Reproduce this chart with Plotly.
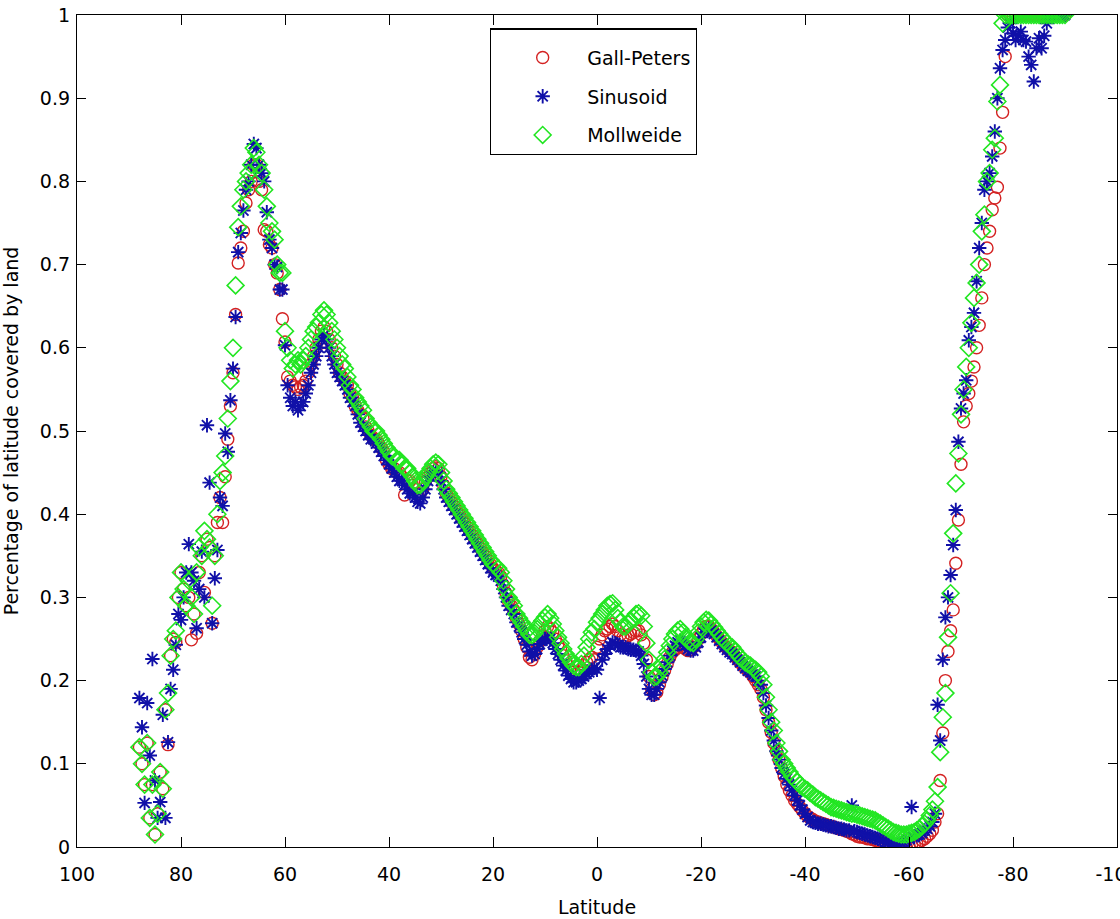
import plotly.graph_objects as go

# Latitude samples (degrees), from north to south
latitude = [
    88, 87.5, 87, 86.5, 86, 85.5, 85, 84.5, 84, 83.5,
    83, 82.5, 82, 81.5, 81, 80.5, 80, 79.5, 79, 78.5,
    78, 77.5, 77, 76.5, 76, 75.5, 75, 74.5, 74, 73.5,
    73, 72.5, 72, 71.5, 71, 70.5, 70, 69.5, 69, 68.5,
    68, 67.5, 67, 66.5, 66, 65.5, 65, 64.5, 64, 63.5,
    63, 62.5, 62, 61.5, 61, 60.5, 60, 59.5, 59, 58.5,
    58, 57.5, 57, 56.5, 56, 55.5, 55, 54.5, 54, 53.5,
    53, 52.5, 52, 51.5, 51, 50.5, 50, 49.5, 49, 48.5,
    48, 47.5, 47, 46.5, 46, 45.5, 45, 44.5, 44, 43.5,
    43, 42.5, 42, 41.5, 41, 40.5, 40, 39.5, 39, 38.5,
    38, 37.5, 37, 36.5, 36, 35.5, 35, 34.5, 34, 33.5,
    33, 32.5, 32, 31.5, 31, 30.5, 30, 29.5, 29, 28.5,
    28, 27.5, 27, 26.5, 26, 25.5, 25, 24.5, 24, 23.5,
    23, 22.5, 22, 21.5, 21, 20.5, 20, 19.5, 19, 18.5,
    18, 17.5, 17, 16.5, 16, 15.5, 15, 14.5, 14, 13.5,
    13, 12.5, 12, 11.5, 11, 10.5, 10, 9.5, 9, 8.5,
    8, 7.5, 7, 6.5, 6, 5.5, 5, 4.5, 4, 3.5,
    3, 2.5, 2, 1.5, 1, 0.5, 0, -0.5, -1, -1.5,
    -2, -2.5, -3, -3.5, -4, -4.5, -5, -5.5, -6, -6.5,
    -7, -7.5, -8, -8.5, -9, -9.5, -10, -10.5, -11, -11.5,
    -12, -12.5, -13, -13.5, -14, -14.5, -15, -15.5, -16, -16.5,
    -17, -17.5, -18, -18.5, -19, -19.5, -20, -20.5, -21, -21.5,
    -22, -22.5, -23, -23.5, -24, -24.5, -25, -25.5, -26, -26.5,
    -27, -27.5, -28, -28.5, -29, -29.5, -30, -30.5, -31, -31.5,
    -32, -32.5, -33, -33.5, -34, -34.5, -35, -35.5, -36, -36.5,
    -37, -37.5, -38, -38.5, -39, -39.5, -40, -40.5, -41, -41.5,
    -42, -42.5, -43, -43.5, -44, -44.5, -45, -45.5, -46, -46.5,
    -47, -47.5, -48, -48.5, -49, -49.5, -50, -50.5, -51, -51.5,
    -52, -52.5, -53, -53.5, -54, -54.5, -55, -55.5, -56, -56.5,
    -57, -57.5, -58, -58.5, -59, -59.5, -60, -60.5, -61, -61.5,
    -62, -62.5, -63, -63.5, -64, -64.5, -65, -65.5, -66, -66.5,
    -67, -67.5, -68, -68.5, -69, -69.5, -70, -70.5, -71, -71.5,
    -72, -72.5, -73, -73.5, -74, -74.5, -75, -75.5, -76, -76.5,
    -77, -77.5, -78, -78.5, -79, -79.5, -80, -80.5, -81, -81.5,
    -82, -82.5, -83, -83.5, -84, -84.5, -85, -85.5, -86, -86.5,
    -87, -87.5, -88, -88.5, -89, -89.5, -90,
]

gall_peters = [
    0.12, 0.10, 0.075, 0.125, 0.035, 0.075, 0.015, 0.04, 0.09, 0.07,
    0.165, 0.123, 0.23, 0.25, 0.246, 0.30, 0.33, 0.31, 0.29, 0.30,
    0.249, 0.28, 0.257, 0.33, 0.35, 0.306, 0.37, 0.36, 0.269, 0.35,
    0.39, 0.42, 0.39, 0.445, 0.49, 0.53, 0.57, 0.64, 0.702, 0.72,
    0.74, 0.774, 0.79, 0.80, 0.82, 0.82, 0.80, 0.79, 0.742, 0.74,
    0.724, 0.72, 0.70, 0.69, 0.67, 0.635, 0.607, 0.565, 0.56, 0.555,
    0.553, 0.55, 0.553, 0.555, 0.56, 0.57, 0.58, 0.59, 0.60, 0.61,
    0.62, 0.625, 0.62, 0.61, 0.60, 0.59, 0.58, 0.57, 0.565, 0.56,
    0.555, 0.545, 0.54, 0.53, 0.525, 0.52, 0.515, 0.505, 0.50, 0.495,
    0.49, 0.49, 0.485, 0.48, 0.475, 0.465, 0.46, 0.455, 0.455, 0.45,
    0.45, 0.445, 0.423, 0.44, 0.44, 0.435, 0.43, 0.425, 0.425, 0.43,
    0.44, 0.445, 0.45, 0.455, 0.457, 0.455, 0.445, 0.435, 0.425, 0.42,
    0.415, 0.41, 0.405, 0.40, 0.395, 0.39, 0.385, 0.38, 0.375, 0.37,
    0.365, 0.36, 0.355, 0.35, 0.345, 0.34, 0.335, 0.332, 0.33, 0.325,
    0.315, 0.305, 0.295, 0.29, 0.285, 0.275, 0.268, 0.26, 0.25, 0.24,
    0.228, 0.225, 0.232, 0.24, 0.248, 0.254, 0.26, 0.265, 0.262, 0.258,
    0.25, 0.244, 0.238, 0.23, 0.224, 0.218, 0.213, 0.21, 0.208, 0.21,
    0.212, 0.218, 0.222, 0.225, 0.228, 0.225, 0.24, 0.25, 0.255, 0.26,
    0.262, 0.265, 0.268, 0.265, 0.26, 0.255, 0.252, 0.252, 0.254, 0.256,
    0.258, 0.26, 0.26, 0.255, 0.245, 0.225, 0.205, 0.19, 0.183, 0.186,
    0.195, 0.204, 0.212, 0.22, 0.228, 0.234, 0.237, 0.24, 0.242, 0.24,
    0.238, 0.236, 0.237, 0.24, 0.244, 0.25, 0.256, 0.262, 0.265, 0.265,
    0.262, 0.258, 0.254, 0.25, 0.246, 0.242, 0.239, 0.236, 0.234, 0.23,
    0.226, 0.222, 0.218, 0.215, 0.212, 0.21, 0.205, 0.20, 0.195, 0.19,
    0.18, 0.165, 0.15, 0.138, 0.125, 0.115, 0.105, 0.095, 0.085, 0.075,
    0.068, 0.062, 0.056, 0.052, 0.048, 0.044, 0.04, 0.037, 0.035, 0.033,
    0.031, 0.03, 0.029, 0.028, 0.027, 0.026, 0.025, 0.024, 0.023, 0.022,
    0.021, 0.02, 0.019, 0.018, 0.016, 0.015, 0.013, 0.012, 0.012, 0.011,
    0.01, 0.01, 0.009, 0.008, 0.007, 0.006, 0.005, 0.004, 0.003, 0.002,
    0.001, 0.001, 0.0, 0.0, 0.0, 0.0, 0.001, 0.002, 0.003, 0.004,
    0.006, 0.008, 0.01, 0.013, 0.016, 0.02, 0.03, 0.04, 0.08, 0.137,
    0.20, 0.235, 0.26, 0.285, 0.341, 0.393, 0.46, 0.511, 0.53, 0.545,
    0.56, 0.577, 0.60, 0.627, 0.66, 0.70, 0.72, 0.74, 0.766, 0.78,
    0.793, 0.84, 0.883, 0.95, 1, 1, 1, 1, 1, 1,
    1, 1, 1, 1, 1, 1, 1, 1, 1, 1,
    1, 1, 1, 1, 1, 1, 1,
]

sinusoid = [
    0.179, 0.144, 0.053, 0.173, 0.11, 0.226, 0.08, 0.035, 0.054, 0.159,
    0.035, 0.126, 0.19, 0.213, 0.243, 0.28, 0.273, 0.30, 0.33, 0.364,
    0.33, 0.32, 0.263, 0.31, 0.355, 0.30, 0.507, 0.438, 0.269, 0.323,
    0.357, 0.42, 0.41, 0.497, 0.475, 0.537, 0.575, 0.637, 0.715, 0.738,
    0.765, 0.79, 0.80, 0.82, 0.845, 0.84, 0.82, 0.81, 0.80, 0.763,
    0.73, 0.72, 0.70, 0.697, 0.67, 0.67, 0.603, 0.555, 0.54, 0.53,
    0.535, 0.525, 0.53, 0.535, 0.545, 0.555, 0.57, 0.58, 0.59, 0.60,
    0.61, 0.615, 0.61, 0.60, 0.59, 0.58, 0.57, 0.565, 0.56, 0.555,
    0.55, 0.54, 0.535, 0.53, 0.52, 0.51, 0.505, 0.50, 0.495, 0.49,
    0.49, 0.485, 0.48, 0.475, 0.47, 0.465, 0.46, 0.455, 0.45, 0.445,
    0.44, 0.44, 0.435, 0.43, 0.425, 0.425, 0.42, 0.415, 0.413, 0.42,
    0.43, 0.44, 0.445, 0.45, 0.452, 0.45, 0.44, 0.43, 0.42, 0.415,
    0.41, 0.405, 0.40, 0.395, 0.39, 0.385, 0.38, 0.375, 0.37, 0.365,
    0.36, 0.355, 0.35, 0.345, 0.34, 0.335, 0.33, 0.327, 0.325, 0.32,
    0.31, 0.30, 0.29, 0.285, 0.28, 0.27, 0.265, 0.258, 0.25, 0.243,
    0.235, 0.23, 0.232, 0.238, 0.244, 0.248, 0.25, 0.252, 0.25, 0.245,
    0.238, 0.232, 0.225, 0.218, 0.212, 0.206, 0.202, 0.198, 0.198, 0.20,
    0.202, 0.205, 0.208, 0.21, 0.213, 0.215, 0.213, 0.179, 0.225, 0.232,
    0.238, 0.242, 0.246, 0.245, 0.243, 0.24, 0.24, 0.24, 0.238, 0.237,
    0.237, 0.236, 0.235, 0.23, 0.22, 0.205, 0.19, 0.183, 0.183, 0.19,
    0.198, 0.206, 0.214, 0.222, 0.23, 0.236, 0.242, 0.246, 0.248, 0.246,
    0.242, 0.238, 0.236, 0.236, 0.24, 0.246, 0.252, 0.258, 0.262, 0.262,
    0.26, 0.256, 0.252, 0.248, 0.244, 0.24, 0.237, 0.234, 0.232, 0.228,
    0.225, 0.222, 0.218, 0.215, 0.212, 0.21, 0.207, 0.205, 0.20, 0.195,
    0.185, 0.17, 0.155, 0.14, 0.128, 0.115, 0.105, 0.095, 0.088, 0.082,
    0.075, 0.068, 0.062, 0.056, 0.05, 0.045, 0.04, 0.036, 0.032, 0.03,
    0.029, 0.028, 0.028, 0.027, 0.026, 0.025, 0.025, 0.024, 0.023, 0.022,
    0.022, 0.021, 0.02, 0.02, 0.05, 0.019, 0.018, 0.017, 0.016, 0.015,
    0.014, 0.013, 0.012, 0.011, 0.01, 0.009, 0.008, 0.006, 0.005, 0.004,
    0.003, 0.003, 0.004, 0.005, 0.006, 0.008, 0.01, 0.048, 0.012, 0.014,
    0.015, 0.017, 0.02, 0.022, 0.025, 0.03, 0.04, 0.171, 0.128, 0.225,
    0.276, 0.30, 0.327, 0.363, 0.405, 0.487, 0.527, 0.545, 0.561, 0.609,
    0.625, 0.642, 0.68, 0.72, 0.75, 0.79, 0.80, 0.81, 0.83, 0.86,
    0.90, 0.936, 0.958, 0.97, 0.985, 0.99, 0.978, 0.97, 0.975, 0.98,
    0.97, 0.968, 0.95, 0.94, 0.92, 0.96, 0.972, 0.96, 0.975, 0.99,
    1, 1, 1, 1, 1, 1, 1,
]

mollweide = [
    0.12, 0.10, 0.075, 0.125, 0.035, 0.075, 0.015, 0.04, 0.09, 0.07,
    0.165, 0.185, 0.23, 0.25, 0.26, 0.30, 0.33, 0.31, 0.29, 0.32,
    0.30, 0.28, 0.33, 0.36, 0.35, 0.38, 0.37, 0.36, 0.29, 0.35,
    0.40, 0.44, 0.45, 0.47, 0.515, 0.56, 0.60, 0.675, 0.745, 0.77,
    0.79, 0.80, 0.81, 0.82, 0.84, 0.835, 0.82, 0.81, 0.79, 0.77,
    0.75, 0.74, 0.73, 0.70, 0.69, 0.69, 0.62, 0.60, 0.585, 0.575,
    0.58, 0.585, 0.58, 0.585, 0.59, 0.60, 0.61, 0.62, 0.625, 0.63,
    0.64, 0.645, 0.64, 0.63, 0.62, 0.61, 0.60, 0.59, 0.58, 0.575,
    0.565, 0.555, 0.55, 0.54, 0.535, 0.53, 0.525, 0.515, 0.51, 0.505,
    0.50, 0.50, 0.495, 0.49, 0.485, 0.48, 0.475, 0.47, 0.47, 0.465,
    0.465, 0.46, 0.455, 0.455, 0.45, 0.445, 0.44, 0.435, 0.435, 0.44,
    0.445, 0.45, 0.455, 0.46, 0.462, 0.46, 0.45, 0.44, 0.43, 0.425,
    0.42, 0.415, 0.41, 0.405, 0.40, 0.395, 0.39, 0.385, 0.38, 0.375,
    0.37, 0.365, 0.36, 0.355, 0.35, 0.345, 0.34, 0.338, 0.335, 0.33,
    0.32, 0.31, 0.30, 0.295, 0.29, 0.28, 0.275, 0.27, 0.265, 0.26,
    0.255, 0.255, 0.257, 0.262, 0.268, 0.272, 0.276, 0.28, 0.275, 0.268,
    0.26, 0.252, 0.245, 0.238, 0.232, 0.227, 0.222, 0.218, 0.216, 0.216,
    0.22, 0.23, 0.24, 0.25, 0.258, 0.262, 0.27, 0.275, 0.28, 0.285,
    0.29, 0.292, 0.293, 0.285, 0.275, 0.27, 0.265, 0.265, 0.268, 0.272,
    0.276, 0.28, 0.281, 0.278, 0.265, 0.245, 0.225, 0.21, 0.204, 0.205,
    0.21, 0.218, 0.226, 0.234, 0.242, 0.25, 0.256, 0.26, 0.262, 0.258,
    0.252, 0.248, 0.246, 0.245, 0.25, 0.258, 0.265, 0.27, 0.273, 0.272,
    0.268, 0.264, 0.26, 0.256, 0.252, 0.248, 0.245, 0.242, 0.24, 0.236,
    0.232, 0.228, 0.225, 0.222, 0.22, 0.218, 0.215, 0.213, 0.21, 0.205,
    0.195, 0.18, 0.165, 0.15, 0.14, 0.125, 0.115, 0.105, 0.10, 0.095,
    0.09, 0.085, 0.082, 0.078, 0.075, 0.072, 0.07, 0.068, 0.065, 0.063,
    0.06, 0.058, 0.056, 0.054, 0.052, 0.05, 0.048, 0.047, 0.046, 0.045,
    0.044, 0.043, 0.042, 0.041, 0.04, 0.04, 0.039, 0.038, 0.037, 0.036,
    0.035, 0.034, 0.033, 0.032, 0.03, 0.028, 0.026, 0.024, 0.022, 0.02,
    0.018, 0.017, 0.016, 0.015, 0.015, 0.015, 0.016, 0.017, 0.018, 0.02,
    0.022, 0.025, 0.028, 0.032, 0.038, 0.045, 0.055, 0.072, 0.114, 0.156,
    0.185, 0.252, 0.305, 0.377, 0.437, 0.473, 0.52, 0.55, 0.577, 0.60,
    0.63, 0.66, 0.678, 0.70, 0.74, 0.76, 0.80, 0.81, 0.838, 0.852,
    0.896, 0.916, 0.99, 1, 1, 1, 1, 1, 1, 1,
    1, 1, 1, 1, 1, 1, 1, 1, 1, 1,
    1, 1, 1, 1, 1, 1, 1,
]

x_tick_vals = [100, 80, 60, 40, 20, 0, -20, -40, -60, -80, -100]
x_tick_text = ["100", "80", "60", "40", "20", "0", "-20", "-40", "-60", "-80", "-100"]
y_tick_vals = [0, 0.1, 0.2, 0.3, 0.4, 0.5, 0.6, 0.7, 0.8, 0.9, 1]
y_tick_text = ["0", "0.1", "0.2", "0.3", "0.4", "0.5", "0.6", "0.7", "0.8", "0.9", "1"]

FONT = "DejaVu Sans, Verdana, sans-serif"
FS = 19

fig = go.Figure()
fig.add_trace(go.Scatter(
    x=latitude, y=gall_peters, mode="markers", name="Gall-Peters",
    legendgroup="g1",
    marker=dict(symbol="circle-open", size=12, color="#d42222",
                line=dict(width=1.4, color="#d42222")),
))
fig.add_trace(go.Scatter(
    x=latitude, y=sinusoid, mode="markers", name="Sinusoid",
    legendgroup="g2",
    marker=dict(symbol="asterisk-open", size=12, color="#1010a8",
                line=dict(width=1.9, color="#1010a8")),
))
fig.add_trace(go.Scatter(
    x=latitude, y=mollweide, mode="markers", name="Mollweide",
    legendgroup="g3",
    marker=dict(symbol="diamond-open", size=13, color="#22e622",
                line=dict(width=1.6, color="#22e622")),
))

axis_common = dict(
    showline=True, linecolor="black", linewidth=1.3, mirror="ticks",
    ticks="inside", tickcolor="black", tickwidth=1.3,
    showgrid=False, zeroline=False, ticklabeloverflow="allow",
    tickfont=dict(family=FONT, size=FS, color="black"),
)

fig.update_layout(
    width=1120, height=919,
    margin=dict(l=77, r=3, t=15, b=72, autoexpand=False),
    paper_bgcolor="white", plot_bgcolor="white",
    font=dict(family=FONT, size=FS, color="black"),
    xaxis=dict(
        range=[100, -100], tickmode="array",
        tickvals=x_tick_vals, ticktext=x_tick_text,
        ticklen=10, ticklabelstandoff=10,
        title=dict(text="Latitude", standoff=16,
                   font=dict(family=FONT, size=FS, color="black")),
        automargin=False,
        **axis_common,
    ),
    yaxis=dict(
        range=[0, 1], tickmode="array",
        tickvals=y_tick_vals, ticktext=y_tick_text,
        ticklen=9, ticklabelstandoff=2,
        title=dict(text="Percentage of latitude covered by land", standoff=17,
                   font=dict(family=FONT, size=FS, color="black")),
        automargin=False,
        **axis_common,
    ),
    legend=dict(
        x=0.397, y=0.984, xanchor="left", yanchor="top",
        bgcolor="white", bordercolor="black", borderwidth=1.3,
        font=dict(family=FONT, size=FS, color="black"),
        title=dict(text="&nbsp;", font=dict(family=FONT, size=7)),
        traceorder="grouped", tracegroupgap=11,
        indentation=7, itemwidth=79,
    ),
    showlegend=True,
)

fig.write_html(
    "out.html",
    config={"displayModeBar": False},
    post_script="document.body.style.margin='0';document.body.style.padding='0';",
)
